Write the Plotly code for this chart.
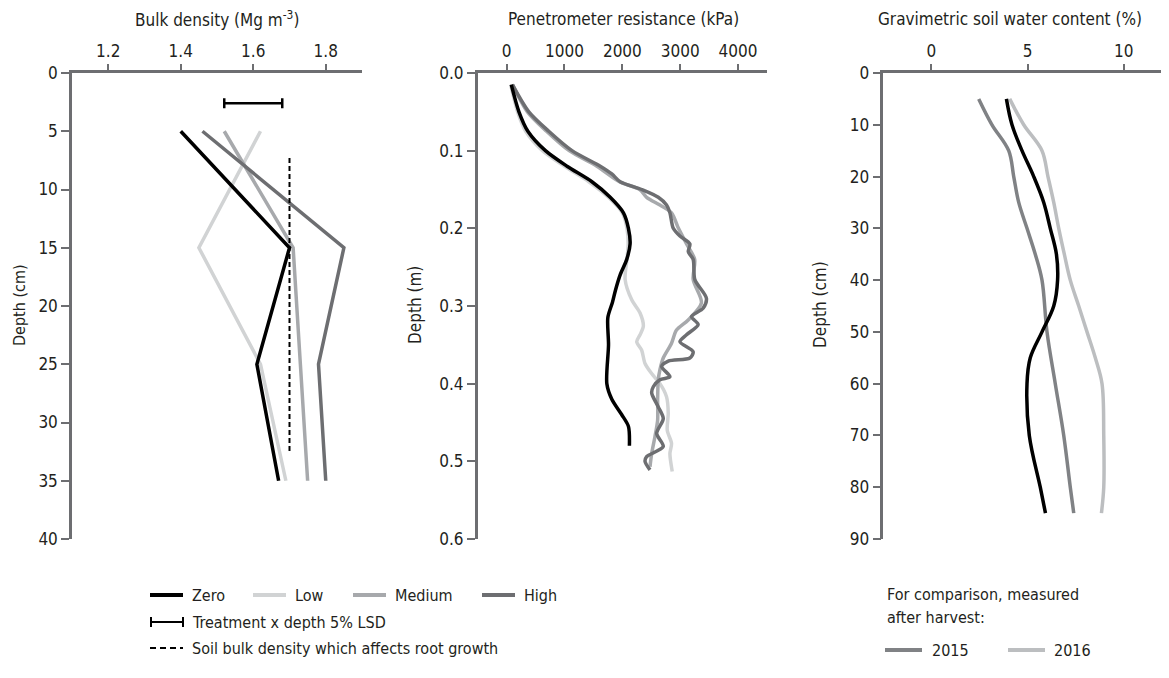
import plotly.graph_objects as go

# The page body has an 8px margin, so the figure is sized to fit the 1169x678 window.
OFF = 8
W, H = 1169 - OFF, 678 - OFF
FONT = "DejaVu Sans Condensed, DejaVu Sans, sans-serif"
TXT = "#231f20"
AX = "#6d6e71"

# ---------- Panel 1: bulk density ----------
bd_depth = [5, 15, 25, 35]
bd_zero = [1.40, 1.70, 1.61, 1.67]
bd_low = [1.62, 1.45, 1.62, 1.69]
bd_medium = [1.52, 1.71, 1.73, 1.75]
bd_high = [1.46, 1.85, 1.78, 1.80]
lsd_depth = 2.6
lsd_center = 1.60
lsd_half = 0.08
crit_bd = 1.70
crit_depth = [7.3, 32.5]

# ---------- Panel 2: penetrometer resistance ----------
pr_zero_d = [0.015, 0.05, 0.075, 0.10, 0.12, 0.14, 0.16, 0.18, 0.20, 0.22, 0.24, 0.26, 0.28,
             0.295, 0.315, 0.35, 0.40, 0.42, 0.44, 0.455, 0.48]
pr_zero = [80, 213, 367, 671, 1043, 1474, 1790, 2019, 2105, 2134, 2076, 1962, 1880,
           1830, 1749, 1761, 1732, 1818, 1990, 2105, 2122]
pr_low_d = [0.015, 0.05, 0.075, 0.10, 0.12, 0.14, 0.16, 0.18, 0.20, 0.22, 0.24, 0.266, 0.292,
            0.309, 0.326, 0.337, 0.346, 0.357, 0.374, 0.387, 0.40, 0.417, 0.438, 0.46, 0.477,
            0.49, 0.513]
pr_low = [70, 190, 330, 620, 1000, 1420, 1760, 2000, 2080, 2100, 2080, 2048, 2162,
          2306, 2363, 2306, 2248, 2334, 2392, 2506, 2650, 2764, 2793, 2776, 2850,
          2822, 2862]
pr_med_d = [0.015, 0.05, 0.075, 0.10, 0.12, 0.14, 0.15, 0.16, 0.17, 0.18, 0.20, 0.22, 0.24,
            0.266, 0.296, 0.318, 0.331, 0.348, 0.367, 0.382, 0.395, 0.421, 0.447, 0.468,
            0.49, 0.507]
pr_medium = [100, 360, 690, 1080, 1560, 1950, 2300, 2420, 2650, 2850, 2970, 3110, 3250,
             3224, 3367, 3138, 2936, 2850, 2707, 2650, 2621, 2610, 2610, 2564,
             2507, 2478]
pr_high_d = [0.015, 0.05, 0.075, 0.10, 0.12, 0.13, 0.14, 0.15, 0.16, 0.17, 0.18, 0.20, 0.21,
             0.22, 0.23, 0.24, 0.266, 0.29, 0.303, 0.3136, 0.324, 0.337, 0.346, 0.359,
             0.367, 0.371, 0.378, 0.391, 0.395, 0.404, 0.412, 0.43, 0.445, 0.464, 0.481,
             0.494, 0.50, 0.511]
pr_high = [100, 384, 728, 1130, 1618, 1818, 1962, 2334, 2621, 2764, 2822, 2880, 2995,
           3167, 3140, 3224, 3253, 3453, 3396, 3195, 3310, 3109, 2995, 3224,
           3167, 2793, 2679, 2822, 2650, 2535, 2507, 2621, 2707, 2593, 2707,
           2420, 2392, 2478]

# ---------- Panel 3: gravimetric water content ----------
wc_depth_zero = [5, 10, 15, 20, 25, 30, 35, 40, 45, 50, 55, 60, 70, 80, 85]
wc_zero = [3.9, 4.19, 4.71, 5.32, 5.84, 6.18, 6.5, 6.56, 6.36, 5.75, 5.14, 4.97, 5.09, 5.66, 5.93]
wc_depth_2015 = [5, 10, 15, 20, 25, 30, 35, 40, 50, 60, 70, 80, 85]
wc_2015 = [2.46, 3.15, 4.02, 4.28, 4.54, 4.97, 5.4, 5.75, 6.01, 6.44, 6.88, 7.22, 7.4]
wc_depth_2016 = [5, 10, 15, 20, 25, 30, 35, 40, 45, 50, 55, 60, 70, 80, 85]
wc_2016 = [4.07, 4.8, 5.75, 6.06, 6.36, 6.62, 6.91, 7.22, 7.66, 8.09, 8.52, 8.87, 8.96, 8.96, 8.84]

C_ZERO, C_LOW, C_MED, C_HIGH = "#000000", "#d1d3d4", "#a7a9ac", "#6d6e71"
C_2015, C_2016 = "#808285", "#bcbec0"

fig = go.Figure()

def px_x(p):
    return (p - OFF) / W

def px_y(p):
    return 1 - (p - OFF) / H

ydom = [px_y(539), px_y(73)]

# Panel 1 traces
for vals, col in [(bd_low, C_LOW), (bd_medium, C_MED), (bd_high, C_HIGH), (bd_zero, C_ZERO)]:
    fig.add_trace(go.Scatter(x=vals, y=bd_depth, mode="lines", xaxis="x", yaxis="y",
                             line=dict(color=col, width=3.5), showlegend=False))
fig.add_trace(go.Scatter(x=[crit_bd, crit_bd], y=crit_depth, mode="lines", xaxis="x", yaxis="y",
                         line=dict(color="#000000", width=2, dash="5px,3px"), showlegend=False))
fig.add_trace(go.Scatter(x=[lsd_center], y=[lsd_depth], mode="markers", xaxis="x", yaxis="y",
                         marker=dict(size=0.1, color="rgba(0,0,0,0)"),
                         error_x=dict(type="constant", value=lsd_half, color="#000000",
                                      thickness=2.5, width=5),
                         showlegend=False))

# Panel 2 traces
for xs, ys, col in [(pr_low, pr_low_d, C_LOW), (pr_medium, pr_med_d, C_MED),
                    (pr_high, pr_high_d, C_HIGH), (pr_zero, pr_zero_d, C_ZERO)]:
    fig.add_trace(go.Scatter(x=xs, y=ys, mode="lines", xaxis="x2", yaxis="y2",
                             line=dict(color=col, width=3.5, shape="spline", smoothing=0.8),
                             showlegend=False))

# Panel 3 traces
for xs, ys, col in [(wc_2016, wc_depth_2016, C_2016), (wc_2015, wc_depth_2015, C_2015),
                    (wc_zero, wc_depth_zero, C_ZERO)]:
    fig.add_trace(go.Scatter(x=xs, y=ys, mode="lines", xaxis="x3", yaxis="y3",
                             line=dict(color=col, width=3.5, shape="spline", smoothing=1.0),
                             showlegend=False))

tickfont = dict(family=FONT, size=17, color=TXT)

def xax(dom, rng, dtick, anchor):
    return dict(domain=dom, range=rng, dtick=dtick, tick0=0, side="top", anchor=anchor,
                showline=True, linecolor=AX, linewidth=2.5, ticks="outside", ticklen=6,
                tickwidth=2, tickcolor=AX, showgrid=False, zeroline=False,
                tickfont=tickfont, automargin=False)

def yax(rng, dtick, anchor, fmt=None):
    d = dict(domain=ydom, range=rng, dtick=dtick, tick0=0, anchor=anchor,
             showline=True, linecolor=AX, linewidth=2.5, ticks="outside", ticklen=8,
             tickwidth=2, tickcolor=AX, showgrid=False, zeroline=False,
             tickfont=tickfont, automargin=False)
    if fmt:
        d["tickformat"] = fmt
    return d

layout = dict(
    width=W, height=H, margin=dict(l=0, r=0, t=0, b=0, autoexpand=False),
    paper_bgcolor="white", plot_bgcolor="white",
    font=dict(family=FONT, color=TXT),
    xaxis=xax([px_x(72), px_x(362)], [1.1, 1.9], 0.2, "y"),
    yaxis=yax([40, 0], 5, "x"),
    xaxis2=xax([px_x(477.7), px_x(767)], [-500, 4500], 1000, "y2"),
    yaxis2=yax([0.6, 0], 0.1, "x2", ".1f"),
    xaxis3=xax([px_x(883.3), px_x(1168)], [-2.5, 12.3], 5, "y3"),
    yaxis3=yax([90, 0], 10, "x3"),
)
fig.update_layout(**layout)

ann = []
def text(x, y, s, size=17, xanchor="center", angle=0, yanchor="middle"):
    ann.append(dict(x=px_x(x), y=px_y(y), xref="paper", yref="paper", text=s,
                    showarrow=False, xanchor=xanchor, yanchor=yanchor, textangle=angle,
                    font=dict(family=FONT, size=size, color=TXT)))

# Axis titles
text(217, 19, "Bulk density (Mg m<sup>-3</sup>)")
text(623, 19, "Penetrometer resistance (kPa)")
text(1010, 19, "Gravimetric soil water content (%)")
text(19, 305, "Depth (cm)", size=16, angle=-90)
text(415, 305, "Depth (m)", angle=-90)
text(820, 305, "Depth (cm)", angle=-90)

# Legend (left)
shapes = []
def swatch(x0, x1, y, col, width=4, dash="solid"):
    shapes.append(dict(type="line", xref="paper", yref="paper", x0=px_x(x0), x1=px_x(x1),
                       y0=px_y(y), y1=px_y(y), line=dict(color=col, width=width, dash=dash)))

legend_items = [("Zero", C_ZERO, 150), ("Low", C_LOW, 253), ("Medium", C_MED, 353), ("High", C_HIGH, 482)]
for name, col, x0 in legend_items:
    swatch(x0, x0 + 33, 595, col)
    text(x0 + 40, 595, name, size=16, xanchor="left")

# LSD legend symbol
swatch(151, 183, 622, "#000000", width=2)
shapes.append(dict(type="line", xref="paper", yref="paper", x0=px_x(151), x1=px_x(151),
                   y0=px_y(617), y1=px_y(627), line=dict(color="#000000", width=2)))
shapes.append(dict(type="line", xref="paper", yref="paper", x0=px_x(183), x1=px_x(183),
                   y0=px_y(617), y1=px_y(627), line=dict(color="#000000", width=2)))
text(190, 622, "Treatment x depth 5% LSD", size=16, xanchor="left")
swatch(150, 183, 648, "#000000", width=2, dash="6px,4px")
text(190, 648, "Soil bulk density which affects root growth", size=16, xanchor="left")

# Legend (right)
text(885, 594, "For comparison, measured", size=16, xanchor="left")
text(885, 617, "after harvest:", size=16, xanchor="left")
swatch(885, 922, 650, C_2015)
text(930, 650, "2015", size=16, xanchor="left")
swatch(1008, 1045, 650, C_2016)
text(1052, 650, "2016", size=16, xanchor="left")

fig.update_layout(annotations=ann, shapes=shapes)
fig.write_html("out.html")
